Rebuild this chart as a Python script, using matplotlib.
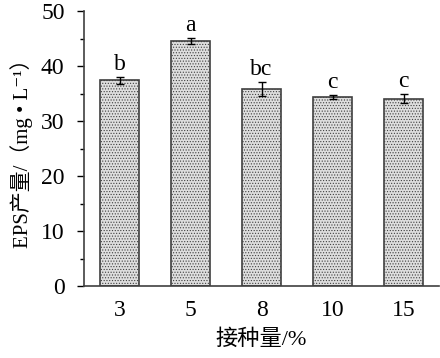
import matplotlib
matplotlib.use("Agg")
import matplotlib.pyplot as plt
from matplotlib.ticker import MultipleLocator

plt.rcParams['font.family'] = ['Liberation Serif', 'Noto Sans CJK SC', 'DejaVu Serif']
plt.rcParams['hatch.color'] = '#a0a0a0'
plt.rcParams['hatch.linewidth'] = 0.5

# Daten
inoculum = ["3", "5", "8", "10", "15"]
eps_yield = [37.4, 44.6, 35.8, 34.4, 34.1]
eps_err = [0.6, 0.55, 1.3, 0.4, 0.9]
sig_letters = ["b", "a", "bc", "c", "c"]

fig = plt.figure(figsize=(4.4, 3.58), dpi=100)
ax = fig.add_axes([0.191, 0.201, 0.807, 0.768])

x = range(len(inoculum))
ax.bar(x, eps_yield, width=0.55, color='#dedede', edgecolor='#404040',
       linewidth=1.2, hatch='......', zorder=2)
ax.errorbar(x, eps_yield, yerr=eps_err, fmt='none', ecolor='black',
            elinewidth=1, capsize=3, capthick=1, zorder=3)
for xi, y, e, s in zip(x, eps_yield, eps_err, sig_letters):
    ax.text(xi, y + e + 0.3, s, ha='center', va='bottom', fontsize=17)

ax.set_xlim(-0.5, 4.5)
ax.set_ylim(0, 50)
ax.set_xticks(list(x))
ax.set_xticklabels(inoculum)
ax.yaxis.set_major_locator(MultipleLocator(10))
ax.yaxis.set_minor_locator(MultipleLocator(5))
ax.tick_params(axis='y', which='major', direction='out', length=5, width=1,
               labelsize=17, pad=9)
ax.tick_params(axis='y', which='minor', direction='out', length=3, width=1)
ax.tick_params(axis='x', length=0, labelsize=17, pad=10)

for side in ['top', 'right']:
    ax.spines[side].set_visible(False)
for side in ['left', 'bottom']:
    ax.spines[side].set_linewidth(1.2)
    ax.spines[side].set_color('#404040')

ax.set_ylabel("EPS产量/（mg • L⁻¹）", fontsize=15, labelpad=6)
ax.set_xlabel("接种量/%", fontsize=16, labelpad=6)

fig.savefig("out.png", dpi=100)
